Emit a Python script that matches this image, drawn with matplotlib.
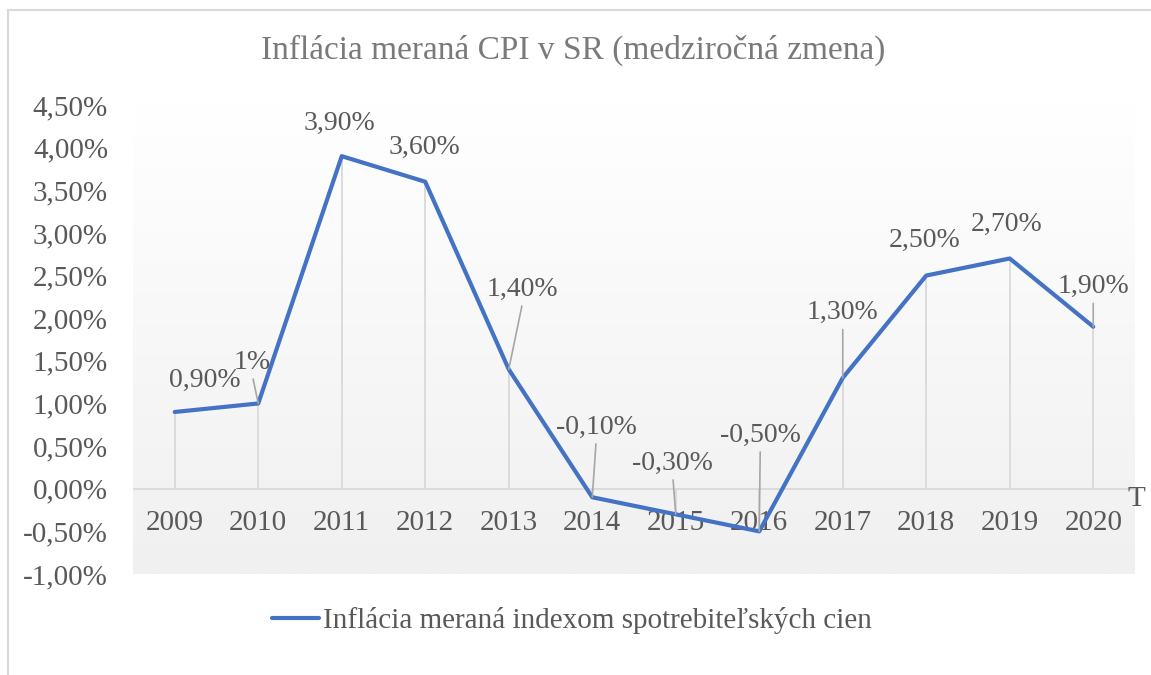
import numpy as np
import matplotlib.pyplot as plt
from matplotlib.colors import LinearSegmentedColormap

plt.rcParams['font.family'] = ['Liberation Serif', 'DejaVu Serif']

years = ['2009', '2010', '2011', '2012', '2013', '2014', '2015', '2016',
         '2017', '2018', '2019', '2020']
inflation = [0.90, 1.00, 3.90, 3.60, 1.40, -0.10, -0.30, -0.50, 1.30, 2.50, 2.70, 1.90]
labels = ['0,90%', '1%', '3,90%', '3,60%', '1,40%', '-0,10%', '-0,30%', '-0,50%',
          '1,30%', '2,50%', '2,70%', '1,90%']
yticks = [-1.0, -0.5, 0.0, 0.5, 1.0, 1.5, 2.0, 2.5, 3.0, 3.5, 4.0, 4.5]
ytick_labels = ['-1,00%', '-0,50%', '0,00%', '0,50%', '1,00%', '1,50%', '2,00%',
                '2,50%', '3,00%', '3,50%', '4,00%', '4,50%']

# label offsets in pixels and whether a leader line is drawn
offsets = [(30, 32), (-6, 41), (-2, 33), (-1, 34), (14, 80), (4, 70), (-3, 51),
           (1, 96), (0, 65), (-2, 35), (-3, 34), (0, 40)]
leaders = [False, True, False, False, True, True, True, True, True, False, False, True]

text_col = '#595959'
blue = '#4472C4'
fs = 21

fig = plt.figure(figsize=(11.51, 6.75), dpi=100)
ax = fig.add_axes([133 / 1151, 1 - 574 / 675, (1135 - 133) / 1151, (574 - 105) / 675])

x = np.arange(len(years))
ax.set_xlim(-0.5, len(years) - 0.5)
ax.set_ylim(-1.0, 4.5)

# gradient plot area: white at top, light gray at bottom
cmap = LinearSegmentedColormap.from_list('bg', ['#ffffff', '#f0f0f0'])
grad = np.linspace(0, 1, 256).reshape(-1, 1)
ax.imshow(grad, cmap=cmap, aspect='auto', extent=[-0.5, len(years) - 0.5, -1.0, 4.5],
          origin='upper', zorder=0)

# drop lines
ax.vlines(x, 0, inflation, color='#d9d9d9', lw=1.3, zorder=1)
ax.axhline(0, color='#d9d9d9', lw=1.3, zorder=1)

ax.plot(x, inflation, color=blue, lw=3, solid_capstyle='round', zorder=3,
        label='Inflácia meraná indexom spotrebiteľských cien')

for xi, yi, lab, off, lead in zip(x, inflation, labels, offsets, leaders):
    arrow = dict(arrowstyle='-', color='#a6a6a6', lw=1.2, shrinkA=1, shrinkB=0,
                 relpos=(0.5, 0.0)) if lead else None
    ax.annotate(lab, (xi, yi), xytext=off, textcoords='offset pixels',
                ha='center', va='center', fontsize=20, color=text_col,
                arrowprops=arrow, zorder=4)

for s in ['top', 'right', 'left']:
    ax.spines[s].set_visible(False)
ax.spines['bottom'].set_position(('data', 0))
ax.spines['bottom'].set_visible(False)

ax.set_xticks(x)
ax.set_xticklabels(years)
ax.set_yticks(yticks)
ax.set_yticklabels(ytick_labels)
ax.tick_params(axis='both', length=0, labelsize=fs, labelcolor=text_col)
ax.tick_params(axis='y', pad=18)
ax.tick_params(axis='x', pad=15)

ax.annotate('T', (1.0, 0), xycoords=ax.get_yaxis_transform(), xytext=(-7, -10),
            textcoords='offset pixels', fontsize=fs, color=text_col,
            ha='left', va='center')

fig.text(573 / 1151, 1 - 50 / 675, 'Inflácia meraná CPI v SR (medziročná zmena)',
         ha='center', va='center', fontsize=24, color='#7a7a7a')

leg = fig.legend(loc='center', bbox_to_anchor=(572 / 1151, 1 - 621 / 675), frameon=False,
                 fontsize=fs, handlelength=1.6, handletextpad=0.15, labelcolor=text_col)

# chart border (left and top)
fig.add_artist(plt.Line2D([8 / 1151, 8 / 1151], [0, 1 - 10 / 675], color='#d9d9d9', lw=1.5,
                          transform=fig.transFigure))
fig.add_artist(plt.Line2D([8 / 1151, 1], [1 - 10 / 675, 1 - 10 / 675], color='#d9d9d9', lw=1.5,
                          transform=fig.transFigure))

fig.savefig('out.png', dpi=100)
